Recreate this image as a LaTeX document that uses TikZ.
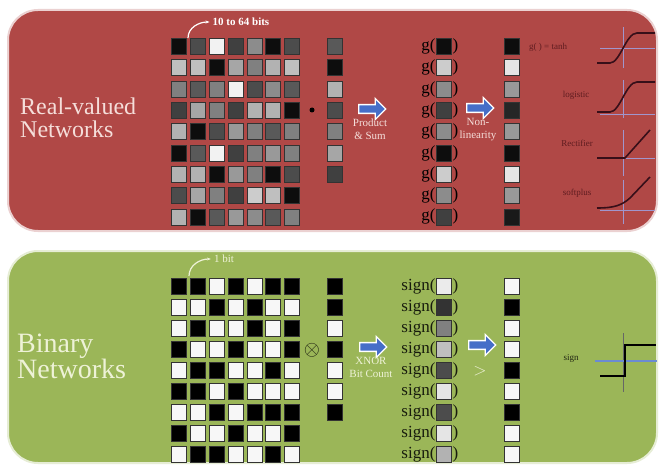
\documentclass[tikz,border=0pt]{standalone}
\usepackage{fontspec}
\setmainfont{Liberation Serif}
\usetikzlibrary{positioning,shapes.arrows,arrows.meta}
\definecolor{realred}{RGB}{176,72,70}
\definecolor{bingreen}{RGB}{155,182,88}
\definecolor{flowblue}{RGB}{70,110,200}
\definecolor{redtxt}{RGB}{245,222,218}
\definecolor{greentxt}{RGB}{238,242,215}
\definecolor{axiscol}{RGB}{160,150,205}
\definecolor{curvecol}{RGB}{55,15,25}
\definecolor{lbltxt}{RGB}{95,28,32}
\tikzset{
  panel/.style={rounded corners=30pt,line width=2pt},
  cell/.style={draw=black!80,line width=0.7pt,minimum width=15pt,minimum height=16pt,inner sep=0pt},
  flow/.style={single arrow,draw=white,line width=1.3pt,fill=flowblue,minimum height=27pt,minimum width=21pt,single arrow head extend=3pt,inner sep=1.5pt},
  fn/.style={inner sep=0pt,font=\fontsize{17}{17}\selectfont},
  small/.style={align=center,inner sep=0pt,font=\fontsize{11}{13}\selectfont},
  tiny/.style={inner sep=0pt,text=lbltxt,font=\fontsize{9}{9}\selectfont},
  axis/.style={axiscol,line width=0.7pt},
  curve/.style={curvecol,line width=1.6pt},
  bent/.style={line width=1.2pt,-{Stealth[length=4pt]}}
}
\begin{document}
\begin{tikzpicture}[x=1pt,y=-1pt]
\useasboundingbox[fill=white] (0,0) rectangle (661,465);
\draw[panel,fill=realred,draw=realred!25!white] (8,10) rectangle (657,231);
\draw[panel,fill=bingreen,draw=bingreen!25!white] (8,251) rectangle (657,463);

\node[anchor=west,align=left,text=redtxt,inner sep=0pt,font=\fontsize{24}{23}\selectfont] (realname) at (20,118) {Real-valued\\Networks};
\node[anchor=west,align=left,text=greentxt,inner sep=0pt,font=\fontsize{28}{26}\selectfont] (binname) at (17,356) {Binary\\Networks};

\node[inner sep=0pt,text=white,font=\bfseries\fontsize{11}{11}\selectfont] (bits) at (241,22) {10 to 64 bits};
\coordinate (bitsfoot) at (188,38);
\draw[bent,white] (bitsfoot) to[out=90,in=180] ([xshift=-3pt]bits.west);

\foreach \row [count=\r] in {{5,30,95,25,55,5,30},{75,75,5,65,50,70,75},{50,35,50,95,30,55,35},{25,65,50,25,70,70,5},{70,5,30,60,50,35,50},{5,35,95,25,50,60,50},{70,70,5,60,50,5,30},{30,65,50,25,80,75,5},{70,5,35,60,55,35,50}}
  \foreach \v [count=\c] in \row
    \node[cell,fill=white!\v!black] (w\r-\c) at ({179.3+18.8*(\c-1)},{46.5+21.3*(\r-1)}) {};
\foreach \v [count=\r] in {35,5,70,30,50,65,25}
  \node[cell,fill=white!\v!black] (x\r) at (335,{46.5+21.3*(\r-1)}) {};
\node[circle,fill=black,inner sep=0pt,minimum size=5pt] (dotop) at (312,110) {};

\node[flow] (prod) at (370,109) {};
\node[small,text=redtxt,below=5pt of prod] (prodtxt) {Product\\\& Sum};

\foreach \v [count=\r] in {5,80,55,25,55,5,80,55,25} {
  \node[cell,fill=white!\v!black] (g\r) at (444,{46.5+21.3*(\r-1)}) {};
  \node[fn,left=0.5pt of g\r] (gl\r) {g(};
  \node[fn,right=0.5pt of g\r] (gr\r) {)};
}

\node[flow] (nonlin) at (478,108) {};
\node[small,text=redtxt,below=5pt of nonlin] (nonlintxt) {Non-\\linearity};

\foreach \v [count=\r] in {5,90,60,15,60,5,90,60,10}
  \node[cell,fill=white!\v!black] (y\r) at (512,{46.5+21.3*(\r-1)}) {};

\node[tiny,anchor=west] (tanhlbl) at (529,47) {g( ) = tanh};
\node[tiny] (loglbl) at (576,95) {logistic};
\node[tiny] (rectlbl) at (577,143) {Rectifier};
\node[tiny] (softlbl) at (577,193) {softplus};

\draw[axis] (623,27) -- (623,68);
\draw[axis] (600,48) -- (655,48);
\draw[curve] (597,63) -- (610,63) .. controls (620,63) and (626,33) .. (637,33) -- (655,33);
\draw[axis] (623,80) -- (623,118);
\draw[axis] (600,114) -- (655,114);
\draw[curve] (597,112) -- (610,112) .. controls (620,112) and (626,82) .. (637,82) -- (655,82);
\draw[axis] (623,130) -- (623,176);
\draw[axis] (600,158) -- (655,158);
\draw[curve] (597,158) -- (625,158) -- (650,130);
\draw[axis] (623,180) -- (623,224);
\draw[axis] (600,210) -- (655,210);
\draw[curve] (597,208) .. controls (615,208) and (622,205) .. (630,198) -- (650,177);

\node[inner sep=0pt,text=greentxt,font=\fontsize{11}{11}\selectfont] (onebit) at (224,259) {1 bit};
\coordinate (bitfoot) at (189,276);
\draw[bent,greentxt] (bitfoot) to[out=90,in=180] ([xshift=-3pt]onebit.west);

\foreach \row [count=\r] in {{0,0,97,0,97,0,0},{97,97,0,97,0,97,97},{97,0,97,97,0,97,0},{0,97,97,0,97,97,0},{97,0,0,97,97,0,97},{0,0,97,0,97,97,97},{97,97,0,97,0,0,0},{0,97,97,0,97,97,0},{97,0,0,97,97,0,97}}
  \foreach \v [count=\c] in \row
    \node[cell,fill=white!\v!black] (b\r-\c) at ({179.3+18.8*(\c-1)},{286+21*(\r-1)}) {};
\foreach \v [count=\r] in {0,0,97,0,97,97,0}
  \node[cell,fill=white!\v!black] (bx\r) at (335,{286+21*(\r-1)}) {};
\node[inner sep=0pt,text=black!80!bingreen,font=\fontsize{20}{20}\selectfont] (xnorop) at (312,350) {$\otimes$};

\node[flow] (xnor) at (371,347) {};
\node[small,text=greentxt,below=5pt of xnor] (xnortxt) {XNOR\\Bit Count};

\foreach \v [count=\r] in {92,20,50,75,30,90,30,90,70} {
  \node[cell,fill=white!\v!black] (s\r) at (444,{286+21*(\r-1)}) {};
  \node[fn,text=black!85!bingreen,left=0.5pt of s\r] (sl\r) {sign(};
  \node[fn,text=black!85!bingreen,right=0.5pt of s\r] (sr\r) {)};
}

\node[flow] (cmp) at (480,345) {};
\node[inner sep=0pt,text=greentxt,font=\fontsize{16}{16}\selectfont,below=16pt of cmp] (cmptxt) {$>$};

\foreach \v [count=\r] in {97,0,97,97,0,97,0,97,97}
  \node[cell,fill=white!\v!black] (by\r) at (512,{286+21*(\r-1)}) {};

\node[tiny,text=black!80!bingreen] (signlbl) at (571,358) {sign};
\draw[black!60,line width=0.7pt] (623,333) -- (623,392);
\draw[flowblue!80!white,line width=2.2pt] (595,361) -- (657,361);
\draw[black,line width=1.6pt] (600,376) -- (625,376) -- (625,345) -- (656,345);
\end{tikzpicture}
\end{document}
